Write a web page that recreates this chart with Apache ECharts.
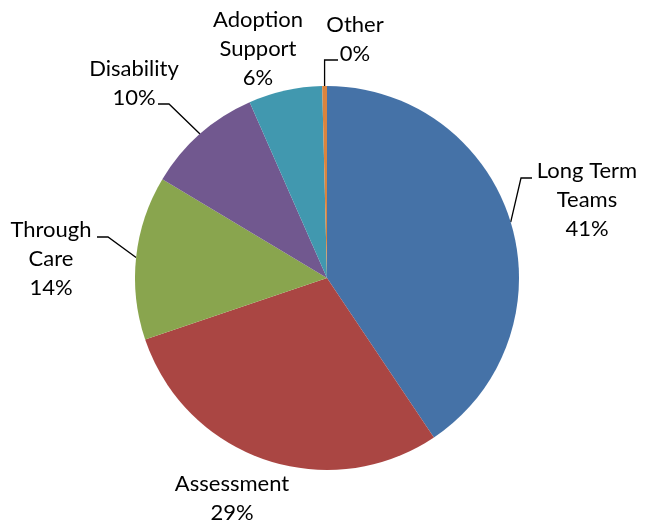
<!DOCTYPE html>
<html>
<head>
<meta charset="utf-8">
<title>Caseload by team</title>
<script src="https://cdn.jsdelivr.net/npm/echarts@6/dist/echarts.min.js"></script>
<style>
  html, body { margin: 0; padding: 0; background: #ffffff; }
  #chart { width: 646px; height: 531px; }
</style>
</head>
<body>
<div id="chart"></div>
<script>
// Teams and their share of cases (clockwise from 12 o'clock)
const categories = ['Long Term Teams', 'Assessment', 'Through Care', 'Disability', 'Adoption Support', 'Other'];
const caseCounts = [406, 292, 138, 98, 62, 4];
const sliceColors = ['#4572A7', '#AA4643', '#89A54E', '#71588F', '#4198AF', '#DB843D'];

// Where each label block sits (centre), and where its leader line meets it,
// relative to that centre. Labels without an anchor get no leader line.
const labelPlacement = {
  'Long Term Teams':  { x: 587, y: 200, anchor: [-55, -22] },
  'Assessment':       { x: 232, y: 498 },
  'Through Care':     { x: 51,  y: 259, anchor: [46, -22] },
  'Disability':       { x: 134, y: 83,  anchor: [24, 21] },
  'Adoption Support': { x: 258, y: 49 },
  'Other':            { x: 355, y: 39,  anchor: [-17, 21], riseFromSlice: true }
};

// Break a name into lines of at most nine characters, word by word
function wrapName(name) {
  const lines = [];
  name.split(' ').forEach(function (word) {
    const last = lines[lines.length - 1];
    if (last && (last + ' ' + word).length <= 9) {
      lines[lines.length - 1] = last + ' ' + word;
    } else {
      lines.push(word);
    }
  });
  return lines.join('\n');
}

const chart = echarts.init(document.getElementById('chart'), null, { renderer: 'canvas' });

const seriesData = categories.map(function (name, i) {
  const spot = labelPlacement[name];
  return {
    name: name,
    value: caseCounts[i],
    itemStyle: { color: sliceColors[i] },
    labelLine: { show: !!spot.anchor }
  };
});

chart.setOption({
  animation: false,
  backgroundColor: '#ffffff',
  series: [{
    type: 'pie',
    center: [327, 278],
    radius: 192,
    startAngle: 90,
    clockwise: true,
    avoidLabelOverlap: false,
    percentPrecision: 0,
    silent: true,
    data: seriesData,
    itemStyle: { borderWidth: 0 },
    label: {
      show: true,
      position: 'outside',
      formatter: function (p) { return wrapName(p.name) + '\n' + p.percent + '%'; },
      fontFamily: 'Lato',
      fontSize: 22,
      lineHeight: 29,
      color: '#000000'
    },
    labelLine: {
      length: 12,
      length2: 10,
      lineStyle: { color: '#000000', width: 1.3 }
    },
    emphasis: { disabled: true },
    labelLayout: function (params) {
      const spot = labelPlacement[categories[params.dataIndex]];
      const layout = { x: spot.x, y: spot.y, align: 'center', verticalAlign: 'middle' };
      const pts = params.labelLinePoints;
      if (spot.anchor && pts) {
        const start = pts[0];
        const end = [spot.x + spot.anchor[0], spot.y + spot.anchor[1]];
        const bend = spot.riseFromSlice
          ? [start[0], end[1]]
          : [end[0] + (spot.anchor[0] > 0 ? 11 : -11), end[1]];
        layout.labelLinePoints = [start, bend, end];
      }
      return layout;
    }
  }]
});
</script>
</body>
</html>
